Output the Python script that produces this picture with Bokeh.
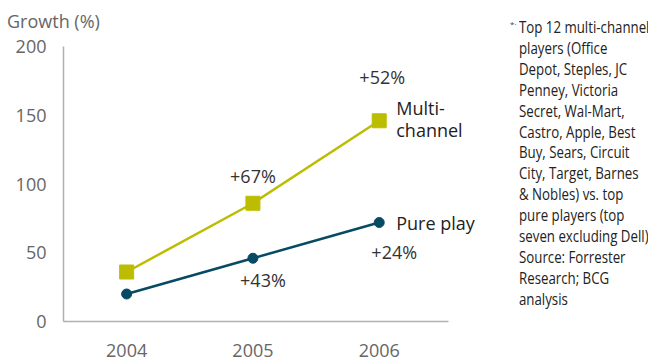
from bokeh.plotting import figure
from bokeh.models import Label, FixedTicker, Div
from bokeh.layouts import row, column
from bokeh.embed import file_html
from bokeh.resources import INLINE

years = [2004, 2005, 2006]
multi_channel = [36, 86, 146]
pure_play = [20, 46, 72]
multi_growth = ["+67%", "+52%"]
pure_growth = ["+43%", "+24%"]
y_ticks = [0, 50, 100, 150, 200]
y_title = "Growth (%)"
footnote = [
    "Top 12 multi-channel",
    "players (Office",
    "Depot, Steples, JC",
    "Penney, Victoria",
    "Secret, Wal-Mart,",
    "Castro, Apple, Best",
    "Buy, Sears, Circuit",
    "City, Target, Barnes",
    "&amp; Nobles) vs. top",
    "pure players (top",
    "seven excluding Dell)",
    "Source: Forrester",
    "Research; BCG",
    "analysis",
]

MC = "#bcbd00"
PP = "#064a63"
FONT = "Open Sans"

title_div = Div(
    text=('<div style="padding:12px 0 0 7px; font-family:\'Open Sans\',sans-serif; '
          'font-size:18px; line-height:18px; color:#666666; white-space:nowrap;">'
          + y_title + "</div>"),
    width=505, height=30, margin=(0, 0, 0, 0))

# frame: x 63..505 (axis line limited by bounds), y 46..321 in the page
p = figure(width=505, height=331, x_range=(2003.5, 2007.0), y_range=(0, 200),
           output_backend="svg", toolbar_location=None,
           min_border_left=63, min_border_right=0, min_border_top=16, min_border_bottom=40)
p.outline_line_color = None
p.xgrid.visible = False
p.ygrid.visible = False
p.background_fill_color = "white"
p.border_fill_color = "white"

for ax in (p.xaxis[0], p.yaxis[0]):
    ax.axis_line_color = "#b0b0b0"
    ax.axis_line_width = 1.5
    ax.major_tick_line_color = None
    ax.minor_tick_line_color = None
    ax.major_label_text_font = FONT
    ax.major_label_text_font_size = "18px"
    ax.major_label_text_color = "#666666"

p.xaxis.ticker = FixedTicker(ticks=years)
p.xaxis.bounds = (2003.5, 2006.55)
p.xaxis.major_label_standoff = 16
p.yaxis.ticker = FixedTicker(ticks=y_ticks)
p.yaxis.bounds = (0, 200)
p.yaxis.major_label_standoff = 11

p.line(years, multi_channel, line_color=MC, line_width=2.5)
p.scatter(years, multi_channel, marker="square", size=14, fill_color=MC, line_color=MC)
p.line(years, pure_play, line_color=PP, line_width=2.5)
p.scatter(years, pure_play, marker="circle", size=10, fill_color=PP, line_color=PP)

def lab(x, y, text, dx=0, dy=0, align="center", color="#333333"):
    p.add_layout(Label(x=x, y=y, text=text, x_offset=dx, y_offset=dy, text_align=align,
                       text_baseline="middle", text_font=FONT, text_font_size="18px",
                       text_color=color))

lab(years[1], multi_channel[1], multi_growth[0], dx=0, dy=27)
lab(years[2], multi_channel[2], multi_growth[1], dx=3, dy=44)
lab(years[1], pure_play[1], pure_growth[0], dx=10, dy=-22)
lab(years[2], pure_play[2], pure_growth[1], dx=15, dy=-29)

lab(years[2], multi_channel[2], "Multi-", dx=17, dy=13, align="left", color="#222222")
lab(years[2], multi_channel[2], "channel", dx=17, dy=-9, align="left", color="#222222")
lab(years[2], pure_play[2], "Pure play", dx=17, dy=0, align="left", color="#222222")

html = (
    '<div style="position:relative; width:143px; height:361px; overflow:hidden;">'
    '<span style="position:absolute; left:5px; top:20px; font-family:\'Open Sans\'; '
    'font-size:8px; line-height:8px; color:#444;">*&#183;</span>'
    '<div style="position:absolute; left:14px; top:17px; transform:scaleX(0.78); '
    "transform-origin:0 0; font-family:'Open Sans',sans-serif; font-size:17px; "
    'line-height:20.9px; color:#222222; white-space:nowrap;">'
    + "<br>".join(footnote)
    + "</div></div>"
)
foot_div = Div(text=html, width=143, height=361, margin=(0, 0, 0, 0))

layout = row(column(title_div, p, spacing=0), foot_div, spacing=0)
open("out.html", "w").write(file_html(layout, INLINE))
